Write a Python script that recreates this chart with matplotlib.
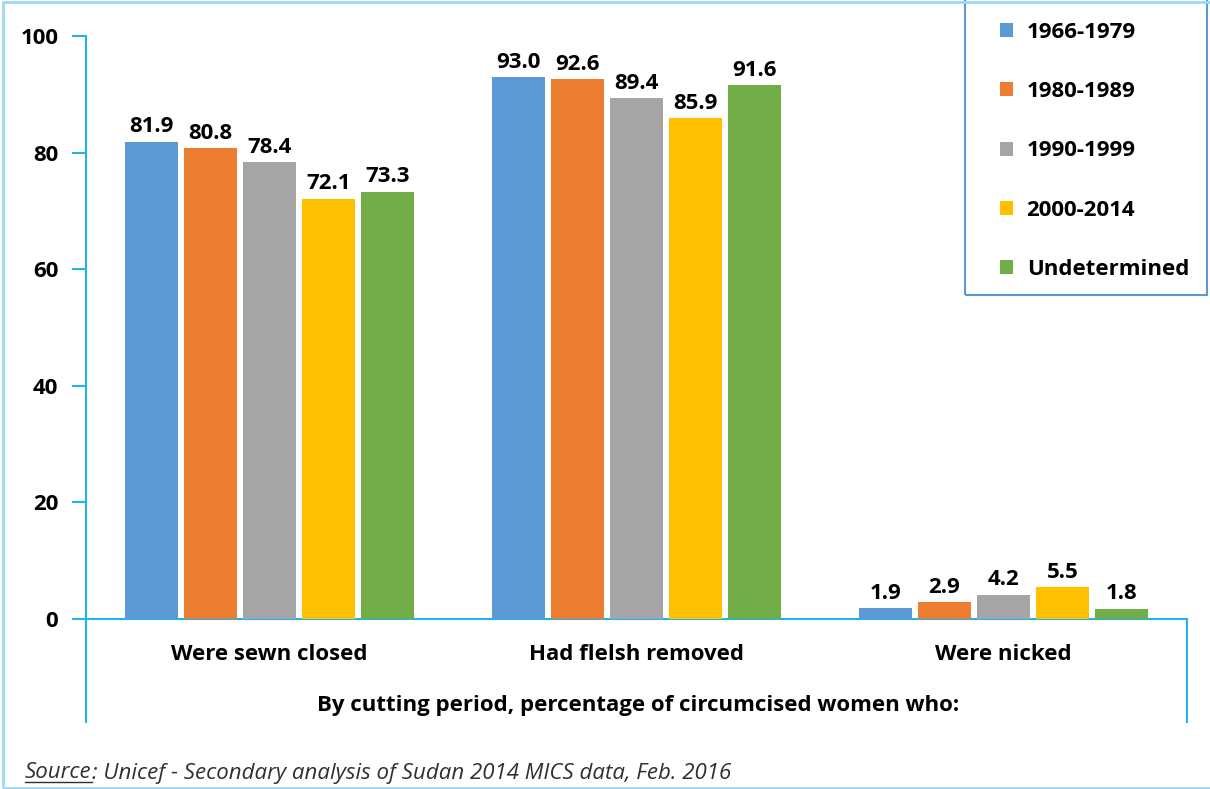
import numpy as np
import matplotlib
matplotlib.use("Agg")
import matplotlib.pyplot as plt
from matplotlib.lines import Line2D
from matplotlib.patches import Rectangle

plt.rcParams['font.family'] = ['Open Sans', 'DejaVu Sans']

categories = ["Were sewn closed", "Had flelsh removed", "Were nicked"]
periods = ["1966-1979", "1980-1989", "1990-1999", "2000-2014", "Undetermined"]
values = {
    "1966-1979": [81.9, 93.0, 1.9],
    "1980-1989": [80.8, 92.6, 2.9],
    "1990-1999": [78.4, 89.4, 4.2],
    "2000-2014": [72.1, 85.9, 5.5],
    "Undetermined": [73.3, 91.6, 1.8],
}
colors = ["#5B9BD5", "#ED7D31", "#A5A5A5", "#FFC000", "#70AD47"]
line_blue = "#1FB4F0"

W, H = 1210, 789
fig = plt.figure(figsize=(W / 100, H / 100), dpi=100)
ax = fig.add_axes([86 / W, 1 - 619 / H, (1187 - 86) / W, (619 - 36) / H])

x = np.arange(len(categories))
step = 0.161
width = 0.144
for i, p in enumerate(periods):
    pos = x + (i - 2) * step
    bars = ax.bar(pos, values[p], width, color=colors[i], label=p, zorder=3)
    for b, v in zip(bars, values[p]):
        ax.annotate(f"{v:.1f}", (b.get_x() + b.get_width() / 2, v),
                    xytext=(0, 3), textcoords="offset points",
                    ha="center", va="bottom", fontsize=16, fontweight="bold")

ax.set_xlim(-0.5, 2.5)
ax.set_ylim(0, 100)
ax.set_yticks(range(0, 101, 20))
ax.set_xticks(x)
ax.set_xticklabels(categories, fontsize=16, fontweight="bold")
ax.tick_params(axis="x", length=0, pad=18)
ax.tick_params(axis="y", length=10, width=1.5, color=line_blue, pad=10,
               labelsize=16)
for t in ax.get_yticklabels():
    t.set_fontweight("bold")

for s in ["top", "right"]:
    ax.spines[s].set_visible(False)
for s in ["left", "bottom"]:
    ax.spines[s].set_color(line_blue)
    ax.spines[s].set_linewidth(1.5)

# extend left spine and draw right vertical line below axis
fig.add_artist(Line2D([86 / W, 86 / W], [1 - 722 / H, 1 - 619 / H],
                      color=line_blue, lw=1.5))
fig.add_artist(Line2D([1187 / W, 1187 / W], [1 - 722 / H, 1 - 619 / H],
                      color=line_blue, lw=1.5))

fig.text(638 / W, 1 - 705 / H,
         "By cutting period, percentage of circumcised women who:",
         ha="center", va="center", fontsize=16, fontweight="bold")

# legend with box
fig.add_artist(Rectangle((965 / W, 1 - 295 / H), 0.2, 0.5, transform=fig.transFigure,
                         fill=False, edgecolor="#5B9BD5", lw=1.5))
leg = fig.legend(loc="upper left", bbox_to_anchor=(980 / W, 1 - 2 / H),
                 frameon=False, fontsize=16, handlelength=0.6, handleheight=0.6,
                 labelspacing=1.72, handletextpad=0.6)
for t in leg.get_texts():
    t.set_fontweight("bold")

# outer border
fig.add_artist(Rectangle((3 / W, 1 / H), 1.0, 1 - 3 / H, transform=fig.transFigure,
                         fill=False, edgecolor="#9ED8F2", lw=2))

src1 = fig.text(25 / W, 1 - 773 / H, "Source", fontsize=16, style="italic",
                color="#303030", va="center")
fig.canvas.draw()
bb = src1.get_window_extent().transformed(fig.transFigure.inverted())
fig.text(bb.x1, 1 - 773 / H,
         ": Unicef - Secondary analysis of Sudan 2014 MICS data, Feb. 2016",
         fontsize=16, style="italic", color="#303030", va="center")
fig.add_artist(Line2D([bb.x0, bb.x1], [bb.y0 + 0.002, bb.y0 + 0.002],
                      color="#303030", lw=1))

fig.savefig("out.png", dpi=100)
